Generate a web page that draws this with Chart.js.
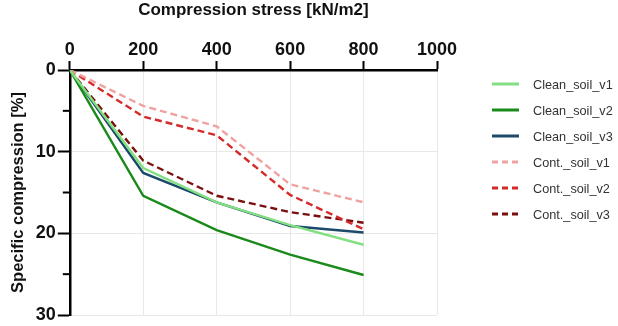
<!DOCTYPE html>
<html>
<head>
<meta charset="utf-8">
<script src="https://cdn.jsdelivr.net/npm/chart.js@4"></script>
<style>
html,body{margin:0;padding:0;background:#fff;}
#wrap{width:618px;height:326px;position:relative;}
</style>
</head>
<body>
<div id="wrap"><canvas id="c" width="618" height="326"></canvas></div>
<script>
const stress = [0, 200, 400, 600, 800];
const seriesNames = ['Clean_soil_v1','Clean_soil_v2','Clean_soil_v3','Cont._soil_v1','Cont._soil_v2','Cont._soil_v3'];
const cleanV1 = [0, 12.0, 16.2, 19.0, 21.4];
const cleanV2 = [0, 15.4, 19.6, 22.6, 25.1];
const cleanV3 = [0, 12.6, 16.2, 19.1, 19.9];
const contV1 = [0, 4.4, 6.9, 14.0, 16.2];
const contV2 = [0, 5.7, 8.0, 15.3, 19.5];
const contV3 = [0, 11.1, 15.4, 17.4, 18.7];
const xTicks = [0, 200, 400, 600, 800, 1000];
const yTicks = [0, 10, 20, 30];
const yMinorTicks = [5, 15, 25];

const values = [cleanV1, cleanV2, cleanV3, contV1, contV2, contV3];
const colors = ['#82df82', '#1a8a1a', '#1c4a6a', '#f0a2a2', '#d42a2a', '#7c0e0e'];
const dashed = [false, false, false, true, true, true];

const datasets = values.map((v, i) => ({
  label: seriesNames[i],
  data: stress.map((s, j) => ({x: s, y: v[j]})),
  borderColor: colors[i],
  backgroundColor: colors[i],
  borderWidth: 2.4,
  borderDash: dashed[i] ? [7, 4] : [],
  pointRadius: 0,
  tension: 0,
  fill: false
}));

const font = "'Liberation Sans', Arial, sans-serif";

// minor ticks on the y axis, positioned through the y scale
const minorTicks = {
  id: 'minorTicks',
  afterDraw(chart) {
    const ys = chart.scales.y, ctx = chart.ctx;
    const x0 = ys.right;
    ctx.save();
    ctx.strokeStyle = '#000';
    ctx.lineWidth = 2;
    yMinorTicks.forEach(v => {
      const py = ys.getPixelForValue(v);
      ctx.beginPath();
      ctx.moveTo(x0 - 7, py);
      ctx.lineTo(x0, py);
      ctx.stroke();
    });
    ctx.restore();
  }
};

// legend drawn from the chart's datasets
const sideLegend = {
  id: 'sideLegend',
  afterDraw(chart) {
    const ctx = chart.ctx;
    ctx.save();
    ctx.font = "12.7px " + font;
    ctx.textBaseline = 'middle';
    ctx.textAlign = 'left';
    chart.data.datasets.forEach((ds, i) => {
      const y = 84 + i * 26;
      ctx.strokeStyle = ds.borderColor;
      ctx.lineWidth = 3;
      ctx.setLineDash(ds.borderDash && ds.borderDash.length ? [6, 4] : []);
      ctx.beginPath();
      ctx.moveTo(492, y);
      ctx.lineTo(519, y);
      ctx.stroke();
      ctx.setLineDash([]);
      ctx.fillStyle = '#333';
      ctx.fillText(ds.label, 533, y + 1);
    });
    ctx.restore();
  }
};

new Chart(document.getElementById('c'), {
  type: 'line',
  data: { datasets },
  plugins: [minorTicks, sideLegend],
  options: {
    responsive: false,
    animation: false,
    devicePixelRatio: 1,
    layout: { padding: { left: 9, right: 181, top: 0, bottom: 10 } },
    plugins: {
      tooltip: { enabled: false },
      legend: { display: false }
    },
    scales: {
      x: {
        type: 'linear',
        position: 'top',
        min: 0, max: 1000,
        afterBuildTicks: (s) => { s.ticks = xTicks.map(v => ({value: v})); },
        ticks: { color: '#111', font: { family: font, size: 18, weight: 'bold' }, padding: 0, maxRotation: 0,
                 callback: (v) => String(v) },
        grid: { color: '#e8e8e8', lineWidth: 1, tickColor: '#000', tickLength: 9, tickWidth: 2 },
        border: { color: '#000', width: 2.5 },
        title: { display: true, text: 'Compression stress [kN/m2]', color: '#111',
                 font: { family: font, size: 17, weight: 'bold' }, padding: { top: 0, bottom: 19 } }
      },
      y: {
        type: 'linear',
        reverse: true,
        min: 0, max: 30,
        afterBuildTicks: (s) => { s.ticks = yTicks.map(v => ({value: v})); },
        ticks: { color: '#111', font: { family: font, size: 18, weight: 'bold', lineHeight: 1 }, padding: 2,
                 callback: (v) => String(v) },
        grid: { color: '#e8e8e8', lineWidth: 1, tickColor: '#000', tickLength: 12, tickWidth: 2 },
        border: { color: '#000', width: 2.5 },
        title: { display: true, text: 'Specific compression [%]', color: '#111',
                 font: { family: font, size: 16.5, weight: 'bold' }, padding: { top: 0, bottom: 5 } }
      }
    }
  }
});
</script>
</body>
</html>
